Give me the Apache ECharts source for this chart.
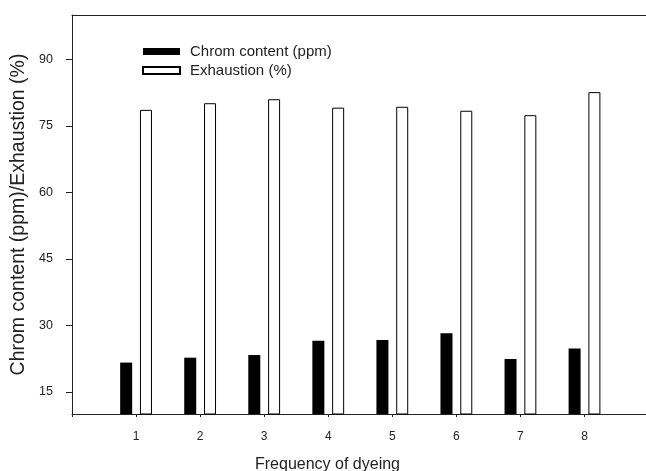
<!DOCTYPE html>
<html>
<head>
<meta charset="utf-8">
<script src="https://cdn.jsdelivr.net/npm/echarts@6/dist/echarts.min.js"></script>
<style>
html,body{margin:0;padding:0;background:#fff;}
#c{width:646px;height:471px;}
</style>
</head>
<body>
<div id="c"></div>
<script>
const categories = ["1", "2", "3", "4", "5", "6", "7", "8"];
const chromContent = [21.6, 22.7, 23.3, 26.5, 26.7, 28.2, 22.4, 24.8];
const exhaustion = [78.6, 80.1, 81.0, 79.1, 79.3, 78.4, 77.4, 82.6];
const yTickValues = [15, 30, 45, 60, 75, 90];
const seriesNames = ["Chrom content (ppm)", "Exhaustion (%)"];

const FONT = "'Liberation Sans', Arial, sans-serif";
const chart = echarts.init(document.getElementById('c'), null, {renderer: 'canvas'});

const chromData = categories.map((c, i) => [i + 1, chromContent[i]]);
const exhData = categories.map((c, i) => [i + 1, exhaustion[i]]);

chart.setOption({
  animation: false,
  backgroundColor: '#fff',
  textStyle: {fontFamily: FONT},
  grid: {left: 72, right: 0, top: 15, bottom: 57, containLabel: false, outerBoundsMode: 'none'},
  legend: {
    orient: 'vertical',
    left: 142,
    top: 44,
    padding: 0,
    itemWidth: 37,
    itemHeight: 7,
    itemGap: 4,
    icon: 'rect',
    textStyle: {fontFamily: FONT, fontSize: 15, color: '#222', padding: [0, 0, 0, 5]},
    data: seriesNames
  },
  xAxis: [{
    type: 'value',
    min: 0,
    max: 8.96,
    interval: 1,
    name: 'Frequency of dyeing',
    nameLocation: 'middle',
    nameGap: 43,
    nameTextStyle: {fontFamily: FONT, fontSize: 16, color: '#222', padding: [0, 63, 0, 0]},
    axisLine: {show: true, onZero: false, lineStyle: {color: '#222', width: 1}},
    axisTick: {show: true, inside: false, length: 3, lineStyle: {color: '#222'}},
    axisLabel: {
      margin: 17, fontSize: 12, color: '#222', fontFamily: FONT,
      formatter: function (v) {
        const k = Math.round(v);
        if (Math.abs(v - k) < 1e-6 && k >= 1 && k <= categories.length) return categories[k - 1];
        return '';
      }
    },
    splitLine: {show: false}
  }, {
    type: 'value',
    position: 'top',
    min: 0,
    max: 8.96,
    axisLine: {show: true, onZero: false, lineStyle: {color: '#222', width: 1}},
    axisTick: {show: false},
    axisLabel: {show: false},
    splitLine: {show: false}
  }],
  yAxis: {
    type: 'value',
    min: 10,
    max: 100,
    name: 'Chrom content (ppm)/Exhaustion (%)',
    nameLocation: 'middle',
    nameGap: 42,
    nameTextStyle: {fontFamily: FONT, fontSize: 19.5, color: '#222'},
    axisLine: {show: true, onZero: false, lineStyle: {color: '#222', width: 1}},
    axisTick: {show: true, length: 6, customValues: yTickValues, lineStyle: {color: '#222'}},
    axisLabel: {margin: 19, fontSize: 12.5, color: '#222', fontFamily: FONT, customValues: yTickValues},
    splitLine: {show: false}
  },
  series: [{
    name: seriesNames[0],
    type: 'bar',
    xAxisIndex: 0,
    barWidth: 12,
    barGap: '65%',
    clip: true,
    itemStyle: {color: '#000', borderColor: '#000', borderWidth: 0},
    data: chromData
  }, {
    name: seriesNames[1],
    type: 'bar',
    xAxisIndex: 0,
    barWidth: 12,
    barGap: '65%',
    clip: true,
    itemStyle: {color: '#fff', borderColor: '#000', borderWidth: 1},
    data: exhData
  }]
});
</script>
</body>
</html>
